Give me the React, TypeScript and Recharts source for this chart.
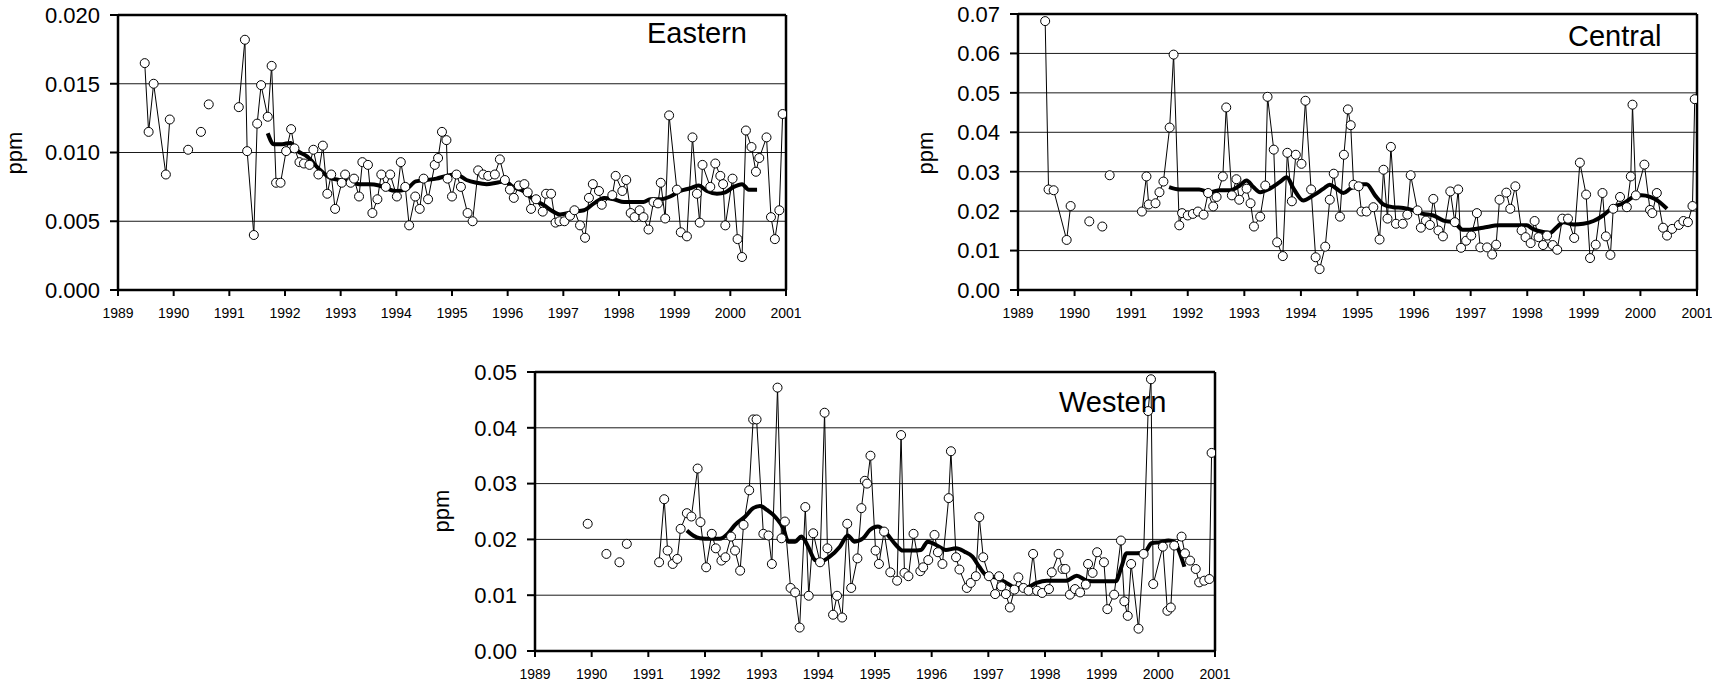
import { LineChart, Line, XAxis, YAxis, CartesianGrid, ReferenceLine } from 'recharts';

const FONT = '"Liberation Sans", Arial, Helvetica, sans-serif';

const yearTicks = [1989, 1990, 1991, 1992, 1993, 1994, 1995, 1996, 1997, 1998, 1999, 2000, 2001];

// Eastern region – sample dates (decimal years) and ppm; null breaks the line
const eastYears = [
  1989.48, 1989.55, 1989.64, 1989.86, 1989.93, 1990.1, 1990.26, 1990.4, 1990.49, 1990.56, 1990.63, 1990.9,
  1991.17, 1991.28, 1991.32, 1991.44, 1991.5, 1991.57, 1991.69, 1991.76, 1991.84, 1991.92,
  1992.02, 1992.11, 1992.17, 1992.26, 1992.34, 1992.44, 1992.51, 1992.6, 1992.68, 1992.76, 1992.83, 1992.9,
  1993.02, 1993.08, 1993.18, 1993.24, 1993.33, 1993.39, 1993.49, 1993.57, 1993.66, 1993.73, 1993.81, 1993.89,
  1994.01, 1994.08, 1994.16, 1994.23, 1994.34, 1994.42, 1994.49, 1994.57, 1994.69, 1994.75, 1994.82, 1994.9, 1994.92,
  1995.0, 1995.08, 1995.16, 1995.28, 1995.37, 1995.47, 1995.56, 1995.65, 1995.77, 1995.86, 1995.95,
  1996.04, 1996.11, 1996.2, 1996.3, 1996.36, 1996.42, 1996.51, 1996.63, 1996.69, 1996.78, 1996.86, 1996.93,
  1997.02, 1997.12, 1997.2, 1997.3, 1997.39, 1997.46, 1997.53, 1997.64, 1997.69, 1997.88, 1997.94,
  1998.06, 1998.13, 1998.21, 1998.28, 1998.37, 1998.44, 1998.53, 1998.62, 1998.7, 1998.75, 1998.83, 1998.9,
  1999.04, 1999.11, 1999.22, 1999.32, 1999.4, 1999.45, 1999.5, 1999.64, 1999.73, 1999.82, 1999.87, 1999.91,
  2000.04, 2000.13, 2000.21, 2000.28, 2000.38, 2000.46, 2000.52, 2000.65, 2000.73, 2000.8, 2000.88, 2000.94,
];
const eastPpm = [
  0.0165, 0.0115, 0.015, 0.0084, 0.0124, null, 0.0102, null, 0.0115, null, 0.0135, null,
  0.0133, 0.0182, 0.0101, 0.004, 0.0121, 0.0149, 0.0126, 0.0163, 0.0078, 0.0078,
  0.0101, 0.0117, 0.0103, 0.0093, 0.0092, 0.0091, 0.0102, 0.0084, 0.0105, 0.007, 0.0084, 0.0059,
  0.0078, 0.0084, 0.0078, 0.0081, 0.0068, 0.0093, 0.0091, 0.0056, 0.0066, 0.0084, 0.0075, 0.0084,
  0.0068, 0.0093, 0.0075, 0.0047, 0.0068, 0.0059, 0.0081, 0.0066, 0.0091, 0.0096, 0.0115, 0.0109, 0.0081,
  0.0068, 0.0084, 0.0075, 0.0056, 0.005, 0.0087, 0.0084, 0.0083, 0.0084, 0.0095, 0.008,
  0.0073, 0.0067, 0.0076, 0.0077, 0.0071, 0.0059, 0.0066, 0.0057, 0.007, 0.007, 0.0049, 0.005,
  0.005, 0.0054, 0.0058, 0.0047, 0.0038, 0.0067, 0.0077, 0.0072, 0.0062, 0.0069, 0.0083,
  0.0072, 0.008, 0.0056, 0.0053, 0.0058, 0.0053, 0.0044, 0.0064, 0.0063, 0.0078, 0.0052, 0.0127,
  0.0073, 0.0042, 0.0039, 0.0111, 0.007, 0.0049, 0.0091, 0.0075, 0.0092, 0.0083, 0.0077, 0.0047,
  0.0081, 0.0037, 0.0024, 0.0116, 0.0104, 0.0086, 0.0096, 0.0111, 0.0053, 0.0037, 0.0058, 0.0128,
];
const eastSmoothYears = [
  1991.69, 1991.8, 1991.95, 1992.1, 1992.2, 1992.4, 1992.61, 1992.79, 1992.97, 1993.15, 1993.33, 1993.51,
  1993.69, 1993.81, 1993.99, 1994.17, 1994.35, 1994.54, 1994.72, 1994.9, 1995.08, 1995.26, 1995.44, 1995.62,
  1995.8, 1995.95, 1996.1, 1996.28, 1996.46, 1996.64, 1996.82, 1996.94, 1997.19, 1997.37, 1997.55, 1997.73,
  1997.91, 1998.09, 1998.27, 1998.44, 1998.56, 1998.74, 1998.92, 1999.1, 1999.28, 1999.43, 1999.58, 1999.76,
  1999.91, 2000.06, 2000.21, 2000.33, 2000.48,
];
const eastSmoothPpm = [
  0.0114, 0.0106, 0.0106, 0.0107, 0.0102, 0.0097, 0.0088, 0.0082, 0.008, 0.0079, 0.0077, 0.0077,
  0.0076, 0.0074, 0.0072, 0.0073, 0.0079, 0.008, 0.0081, 0.0083, 0.0084, 0.008, 0.0078, 0.0077,
  0.0078, 0.0079, 0.0075, 0.0072, 0.0066, 0.0062, 0.0057, 0.0055, 0.0057, 0.0058, 0.0063, 0.0067,
  0.0066, 0.0064, 0.0064, 0.0064, 0.0066, 0.0066, 0.0068, 0.0072, 0.0074, 0.0076, 0.0072, 0.007,
  0.0071, 0.0075, 0.0077, 0.0073, 0.0073,
];

// Central region
const centralYears = [
  1989.48, 1989.54, 1989.63, 1989.86, 1989.93, 1990.1, 1990.26, 1990.4, 1990.49, 1990.56, 1990.62, 1990.9,
  1991.19, 1991.27, 1991.31, 1991.43, 1991.5, 1991.57, 1991.68, 1991.75, 1991.85, 1991.9,
  1992.0, 1992.09, 1992.18, 1992.28, 1992.36, 1992.45, 1992.51, 1992.62, 1992.68, 1992.78, 1992.86, 1992.91,
  1993.04, 1993.11, 1993.17, 1993.28, 1993.37, 1993.41, 1993.52, 1993.58, 1993.68, 1993.76, 1993.84, 1993.91,
  1994.01, 1994.08, 1994.18, 1994.26, 1994.33, 1994.43, 1994.51, 1994.58, 1994.69, 1994.76, 1994.83, 1994.88, 1994.93,
  1995.02, 1995.07, 1995.16, 1995.28, 1995.39, 1995.46, 1995.53, 1995.59, 1995.68, 1995.8, 1995.88, 1995.94,
  1996.06, 1996.12, 1996.21, 1996.28, 1996.34, 1996.43, 1996.51, 1996.64, 1996.72, 1996.78, 1996.83, 1996.92,
  1997.01, 1997.11, 1997.17, 1997.29, 1997.38, 1997.45, 1997.51, 1997.63, 1997.7, 1997.79, 1997.9, 1997.97,
  1998.06, 1998.13, 1998.2, 1998.28, 1998.35, 1998.45, 1998.53, 1998.62, 1998.72, 1998.83, 1998.93,
  1999.04, 1999.11, 1999.21, 1999.33, 1999.39, 1999.47, 1999.52, 1999.64, 1999.76, 1999.83, 1999.86, 1999.92,
  2000.07, 2000.17, 2000.21, 2000.29, 2000.4, 2000.47, 2000.56, 2000.68, 2000.76, 2000.84, 2000.92, 2000.96,
];
const centralPpm = [
  0.0682, 0.0255, 0.0253, 0.0127, 0.0213, null, 0.0174, null, 0.0161, null, 0.0291, null,
  0.0199, 0.0288, 0.0217, 0.022, 0.0248, 0.0275, 0.0412, 0.0597, 0.0164, 0.0195,
  0.0189, 0.0193, 0.0199, 0.0191, 0.0246, 0.0212, 0.0236, 0.0288, 0.0463, 0.024, 0.0281, 0.0229,
  0.0257, 0.022, 0.0161, 0.0186, 0.0265, 0.049, 0.0356, 0.0121, 0.0086, 0.0348, 0.0225, 0.0343,
  0.032, 0.048, 0.0255, 0.0083, 0.0053, 0.011, 0.0229, 0.0295, 0.0186, 0.0343, 0.0458, 0.0418, 0.0267,
  0.0263, 0.0199, 0.0199, 0.021, 0.0128, 0.0305, 0.0181, 0.0363, 0.0168, 0.0168, 0.0191, 0.0291,
  0.0202, 0.0158, 0.0176, 0.0165, 0.0231, 0.0151, 0.0136, 0.025, 0.0172, 0.0255, 0.0107, 0.0125,
  0.0138, 0.0195, 0.0108, 0.0108, 0.009, 0.0115, 0.0229, 0.0247, 0.0206, 0.0263, 0.0151, 0.0134,
  0.0119, 0.0175, 0.0134, 0.0114, 0.0138, 0.0114, 0.0102, 0.0181, 0.0181, 0.0132, 0.0323,
  0.0242, 0.0081, 0.0115, 0.0246, 0.0136, 0.0089, 0.0206, 0.0236, 0.021, 0.0288, 0.047, 0.024,
  0.0318, 0.0203, 0.0195, 0.0246, 0.0158, 0.0138, 0.0155, 0.0165, 0.0175, 0.0172, 0.0213, 0.0484,
];
const centralSmoothYears = [
  1991.67, 1991.85, 1992.2, 1992.39, 1992.57, 1992.75, 1992.92, 1993.04, 1993.16, 1993.28, 1993.45, 1993.63,
  1993.75, 1993.87, 1994.04, 1994.22, 1994.4, 1994.51, 1994.63, 1994.75, 1994.87, 1994.99, 1995.16, 1995.31,
  1995.46, 1995.63, 1995.81, 1995.99, 1996.16, 1996.34, 1996.52, 1996.7, 1996.86, 1996.98, 1997.22, 1997.51,
  1997.81, 1997.99, 1998.1, 1998.28, 1998.4, 1998.52, 1998.64, 1998.82, 1998.99, 1999.17, 1999.34, 1999.52,
  1999.7, 1999.88, 2000.02, 2000.17, 2000.32, 2000.47,
];
const centralSmoothPpm = [
  0.0261, 0.0255, 0.0255, 0.0248, 0.0253, 0.0253, 0.0265, 0.0278, 0.0261, 0.0248, 0.0257, 0.0274,
  0.0286, 0.0257, 0.0227, 0.024, 0.0257, 0.0267, 0.0257, 0.0246, 0.0257, 0.0268, 0.0268, 0.024,
  0.0217, 0.021, 0.0208, 0.0202, 0.0193, 0.0189, 0.0176, 0.0172, 0.0153, 0.0153, 0.0158, 0.0164,
  0.0164, 0.0164, 0.0155, 0.0147, 0.0145, 0.0159, 0.0172, 0.0166, 0.0168, 0.0175, 0.0189, 0.021,
  0.022, 0.0236, 0.024, 0.0236, 0.0225, 0.0206,
];

// Western region
const westYears = [
  1989.93, 1990.1, 1990.26, 1990.4, 1990.49, 1990.56, 1990.62, 1990.9,
  1991.19, 1991.28, 1991.34, 1991.43, 1991.51, 1991.57, 1991.68, 1991.76, 1991.87, 1991.92,
  1992.02, 1992.12, 1992.19, 1992.29, 1992.36, 1992.46, 1992.53, 1992.62, 1992.68, 1992.78, 1992.85, 1992.91,
  1993.03, 1993.12, 1993.18, 1993.28, 1993.35, 1993.41, 1993.51, 1993.59, 1993.67, 1993.77, 1993.83, 1993.91,
  1994.03, 1994.11, 1994.16, 1994.26, 1994.33, 1994.42, 1994.51, 1994.58, 1994.69, 1994.76, 1994.82, 1994.86, 1994.92,
  1995.01, 1995.07, 1995.16, 1995.27, 1995.39, 1995.46, 1995.52, 1995.59, 1995.68, 1995.8, 1995.85, 1995.94,
  1996.05, 1996.11, 1996.19, 1996.3, 1996.34, 1996.43, 1996.49, 1996.62, 1996.69, 1996.78, 1996.84, 1996.91,
  1997.01, 1997.12, 1997.19, 1997.23, 1997.31, 1997.38, 1997.46, 1997.53, 1997.62, 1997.71, 1997.79, 1997.86, 1997.95,
  1998.07, 1998.12, 1998.24, 1998.31, 1998.36, 1998.44, 1998.53, 1998.62, 1998.72, 1998.76, 1998.84, 1998.92,
  1999.04, 1999.1, 1999.22, 1999.34, 1999.4, 1999.46, 1999.52, 1999.65, 1999.74, 1999.82, 1999.87, 1999.91,
  2000.08, 2000.16, 2000.22, 2000.28, 2000.41, 2000.47, 2000.56, 2000.66, 2000.72, 2000.81, 2000.9, 2000.94,
];
const westPpm = [
  0.0228, null, 0.0174, null, 0.0159, null, 0.0192, null,
  0.0159, 0.0272, 0.018, 0.0156, 0.0165, 0.0219, 0.0247, 0.0241, 0.0327, 0.0231,
  0.015, 0.021, 0.0184, 0.0162, 0.0168, 0.0205, 0.018, 0.0144, 0.0226, 0.0288, 0.0415, 0.0415,
  0.021, 0.0207, 0.0156, 0.0472, 0.0202, 0.0232, 0.0113, 0.0105, 0.0042, 0.0258, 0.0099, 0.0211,
  0.0159, 0.0427, 0.0184, 0.0065, 0.0099, 0.006, 0.0228, 0.0113, 0.0166, 0.0256, 0.0305, 0.03, 0.035,
  0.018, 0.0156, 0.0214, 0.0141, 0.0126, 0.0387, 0.014, 0.0134, 0.021, 0.0143, 0.015, 0.0163,
  0.0208, 0.0177, 0.0156, 0.0274, 0.0358, 0.0168, 0.0146, 0.0113, 0.0122, 0.0134, 0.024, 0.0168,
  0.0134, 0.0102, 0.0134, 0.0116, 0.0102, 0.0078, 0.011, 0.0132, 0.0113, 0.0108, 0.0174, 0.0108, 0.0104,
  0.0111, 0.0141, 0.0174, 0.0147, 0.0147, 0.0101, 0.0111, 0.0105, 0.0119, 0.0156, 0.014, 0.0177,
  0.0159, 0.0075, 0.0101, 0.0198, 0.0089, 0.0063, 0.0156, 0.004, 0.0174, 0.043, 0.0487, 0.012,
  0.0187, 0.0072, 0.0078, 0.0189, 0.0205, 0.0175, 0.0162, 0.0147, 0.0123, 0.0126, 0.0129, 0.0355,
];
const westSmoothYears = [
  1991.68, 1991.79, 1991.91, 1992.09, 1992.26, 1992.41, 1992.53, 1992.71, 1992.85, 1992.97, 1993.09, 1993.26,
  1993.38, 1993.47, 1993.59, 1993.7, 1993.82, 1993.94, 1994.03, 1994.2, 1994.38, 1994.52, 1994.64, 1994.79,
  1994.91, 1995.05, 1995.2, 1995.37, 1995.49, 1995.67, 1995.81, 1995.93, 1996.08, 1996.25, 1996.43, 1996.58,
  1996.72, 1996.84, 1996.96, 1997.15, 1997.32, 1997.5, 1997.68, 1997.85, 1998.03, 1998.21, 1998.38, 1998.56,
  1998.74, 1998.91, 1999.09, 1999.25, 1999.35, 1999.44, 1999.62, 1999.76, 1999.88, 2000.03, 2000.18, 2000.29,
  2000.38, 2000.46,
];
const westSmoothPpm = [
  0.0216, 0.0207, 0.0202, 0.0201, 0.0201, 0.0211, 0.0226, 0.0241, 0.0256, 0.026, 0.0253, 0.0238,
  0.022, 0.0196, 0.0196, 0.0205, 0.0187, 0.0163, 0.016, 0.0169, 0.0187, 0.0207, 0.0196, 0.0202,
  0.0217, 0.0223, 0.0211, 0.019, 0.018, 0.018, 0.0181, 0.0196, 0.019, 0.0181, 0.0184, 0.0178,
  0.0169, 0.0151, 0.0136, 0.0131, 0.0122, 0.0113, 0.0114, 0.0122, 0.0126, 0.0126, 0.0126, 0.0135,
  0.0126, 0.0125, 0.0125, 0.0125, 0.0151, 0.0175, 0.0175, 0.0177, 0.0193, 0.0195, 0.0198, 0.0195,
  0.0175, 0.0151,
];

const eastTicks = [0, 0.005, 0.01, 0.015, 0.02];
const centralTicks = [0, 0.01, 0.02, 0.03, 0.04, 0.05, 0.06, 0.07];
const westTicks = [0, 0.01, 0.02, 0.03, 0.04, 0.05];

function toRows(years: number[], ppm: (number | null)[]) {
  return years.map((year, i) => ({ year, ppm: ppm[i] }));
}

interface PanelProps {
  left: number; // plot area left edge on the page
  top: number; // plot area top edge
  plotWidth: number;
  plotHeight: number;
  raw: { year: number; ppm: number | null }[];
  smooth: { year: number; ppm: number | null }[];
  yMax: number;
  yTicks: number[];
  digits: number;
}

const Y_AXIS_W = 110;
const M_TOP = 14;
const M_RIGHT = 18;
const X_AXIS_H = 34;

function Panel({ left, top, plotWidth, plotHeight, raw, smooth, yMax, yTicks, digits }: PanelProps) {
  return (
    <div style={{ position: 'absolute', left: left - Y_AXIS_W, top: top - M_TOP }}>
      <LineChart
        width={Y_AXIS_W + plotWidth + M_RIGHT}
        height={M_TOP + plotHeight + X_AXIS_H}
        margin={{ top: M_TOP, right: M_RIGHT, left: 0, bottom: 0 }}
      >
        <CartesianGrid vertical={false} stroke="#1a1a1a" strokeWidth={1} />
        <XAxis
          dataKey="year"
          type="number"
          domain={[1989, 2001]}
          ticks={yearTicks}
          interval={0}
          allowDataOverflow
          height={X_AXIS_H}
          tickSize={6}
          tickMargin={12}
          axisLine={{ stroke: '#000', strokeWidth: 2.5 }}
          tickLine={{ stroke: '#000', strokeWidth: 2 }}
          tick={{ fontSize: 14, fill: '#000', fontFamily: FONT }}
        />
        <YAxis
          type="number"
          domain={[0, yMax]}
          ticks={yTicks}
          interval={0}
          allowDataOverflow
          width={Y_AXIS_W}
          tickSize={8}
          tickMargin={10}
          tickFormatter={(v: number) => v.toFixed(digits)}
          axisLine={{ stroke: '#000', strokeWidth: 2.5 }}
          tickLine={{ stroke: '#000', strokeWidth: 2 }}
          tick={{ fontSize: 22, fill: '#000', fontFamily: FONT }}
        />
        <ReferenceLine y={yMax} stroke="#000" strokeWidth={2.5} />
        <ReferenceLine x={2001} stroke="#000" strokeWidth={2.5} />
        <Line
          data={raw}
          dataKey="ppm"
          type="linear"
          stroke="#000"
          strokeWidth={1}
          dot={{ r: 4.5, fill: '#fff', stroke: '#000', strokeWidth: 1 }}
          activeDot={false}
          connectNulls={false}
          isAnimationActive={false}
        />
        <Line
          data={smooth}
          dataKey="ppm"
          type="monotone"
          stroke="#000"
          strokeWidth={4}
          dot={false}
          activeDot={false}
          isAnimationActive={false}
        />
      </LineChart>
    </div>
  );
}

export default function App() {
  return (
    <div
      style={{
        position: 'absolute',
        left: 0,
        top: 0,
        width: 1712,
        height: 686,
        overflow: 'hidden',
        background: '#fff',
        fontFamily: FONT,
      }}
    >
      <Panel
        left={118}
        top={15}
        plotWidth={668}
        plotHeight={275}
        raw={toRows(eastYears, eastPpm)}
        smooth={toRows(eastSmoothYears, eastSmoothPpm)}
        yMax={0.02}
        yTicks={eastTicks}
        digits={3}
      />
      <Panel
        left={1018}
        top={14}
        plotWidth={679}
        plotHeight={276}
        raw={toRows(centralYears, centralPpm)}
        smooth={toRows(centralSmoothYears, centralSmoothPpm)}
        yMax={0.07}
        yTicks={centralTicks}
        digits={2}
      />
      <Panel
        left={535}
        top={372}
        plotWidth={680}
        plotHeight={279}
        raw={toRows(westYears, westPpm)}
        smooth={toRows(westSmoothYears, westSmoothPpm)}
        yMax={0.05}
        yTicks={westTicks}
        digits={2}
      />
      {/* titles and axis labels */}
      <svg
        width={1712}
        height={686}
        style={{ position: 'absolute', left: 0, top: 0, pointerEvents: 'none' }}
      >
        <g fontFamily={FONT} fill="#000">
          <text x={647} y={42.5} fontSize={29}>Eastern</text>
          <text x={1568} y={46.3} fontSize={29}>Central</text>
          <text x={1059} y={411.7} fontSize={29}>Western</text>
          <text transform="translate(21.7,153) rotate(-90)" textAnchor="middle" fontSize={22}>ppm</text>
          <text transform="translate(932.5,153) rotate(-90)" textAnchor="middle" fontSize={22}>ppm</text>
          <text transform="translate(449,511) rotate(-90)" textAnchor="middle" fontSize={22}>ppm</text>
        </g>
      </svg>
    </div>
  );
}
